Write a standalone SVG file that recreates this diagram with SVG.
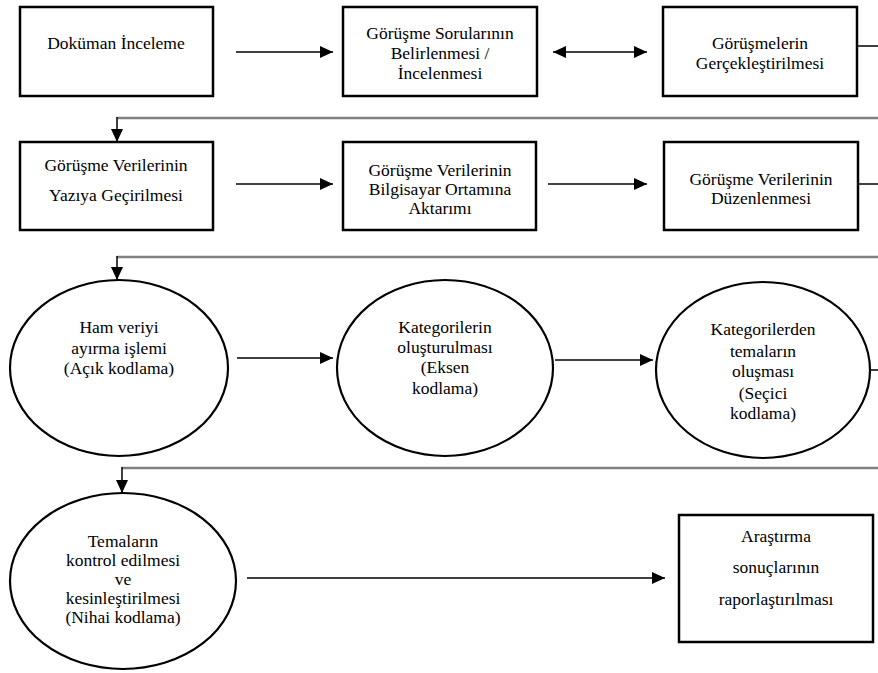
<svg xmlns="http://www.w3.org/2000/svg" width="878" height="673" viewBox="0 0 878 673">
<style>
.box{fill:#fff;stroke:#000;stroke-width:2.5}
.ell{fill:#fff;stroke:#000;stroke-width:2.2}
.t{font-family:'Liberation Serif','Times New Roman',serif;font-size:17.5px;fill:#000;text-anchor:middle}
.arr{stroke:#000;stroke-width:1.5;fill:none}
.ret{stroke:#808080;stroke-width:2.5;fill:none}
</style>
<defs>
<marker id="ah" markerUnits="userSpaceOnUse" markerWidth="13" markerHeight="12" refX="13" refY="6" orient="auto-start-reverse">
<path d="M0,0 L13,6 L0,12 z" fill="#000"/>
</marker>
</defs>
<rect width="878" height="673" fill="#fff"/>
<g id="connectors">
<line class="arr" x1="236" y1="52" x2="333" y2="52" marker-end="url(#ah)"/>
<line class="arr" x1="553" y1="52" x2="647" y2="52" marker-start="url(#ah)" marker-end="url(#ah)"/>
<line class="arr" x1="857" y1="46" x2="878" y2="46"/>
<line class="ret" x1="117" y1="118" x2="878" y2="118"/>
<line class="arr" x1="117" y1="117" x2="117" y2="142" marker-end="url(#ah)"/>
<line class="arr" x1="236" y1="184" x2="333" y2="184" marker-end="url(#ah)"/>
<line class="arr" x1="548" y1="184" x2="647" y2="184" marker-end="url(#ah)"/>
<line class="arr" x1="858" y1="184" x2="878" y2="184"/>
<line class="ret" x1="117" y1="257" x2="878" y2="257"/>
<line class="arr" x1="117" y1="256" x2="117" y2="280" marker-end="url(#ah)"/>
<line class="arr" x1="237" y1="358" x2="333" y2="358" marker-end="url(#ah)"/>
<line class="arr" x1="555" y1="360" x2="653" y2="360" marker-end="url(#ah)"/>
<line class="arr" x1="870" y1="370" x2="878" y2="370"/>
<line class="ret" x1="122" y1="468" x2="878" y2="468"/>
<line class="arr" x1="122" y1="467" x2="122" y2="493" marker-end="url(#ah)"/>
<line class="arr" x1="247" y1="578" x2="665" y2="578" marker-end="url(#ah)"/>
</g>
<g id="n1">
<rect class="box" x="20" y="7" width="193" height="89"/>
<text class="t" x="116" y="49">Doküman İnceleme</text>
</g>
<g id="n2">
<rect class="box" x="343" y="7" width="194" height="89"/>
<text class="t" x="440" y="39">Görüşme Sorularının</text>
<text class="t" x="440" y="59">Belirlenmesi /</text>
<text class="t" x="440" y="79">İncelenmesi</text>
</g>
<g id="n3">
<rect class="box" x="663" y="7" width="194" height="89"/>
<text class="t" x="760" y="49">Görüşmelerin</text>
<text class="t" x="760" y="69">Gerçekleştirilmesi</text>
</g>
<g id="n4">
<rect class="box" x="20" y="142" width="193" height="88"/>
<text class="t" x="116" y="171">Görüşme Verilerinin</text>
<text class="t" x="116" y="201">Yazıya Geçirilmesi</text>
</g>
<g id="n5">
<rect class="box" x="343" y="142" width="193" height="88"/>
<text class="t" x="440" y="176">Görüşme Verilerinin</text>
<text class="t" x="440" y="195">Bilgisayar Ortamına</text>
<text class="t" x="440" y="214">Aktarımı</text>
</g>
<g id="n6">
<rect class="box" x="664" y="142" width="194" height="88"/>
<text class="t" x="761" y="185">Görüşme Verilerinin</text>
<text class="t" x="761" y="204">Düzenlenmesi</text>
</g>
<g id="n7">
<ellipse class="ell" cx="119" cy="368" rx="109" ry="88"/>
<text class="t" x="119" y="333">Ham veriyi</text>
<text class="t" x="119" y="354">ayırma işlemi</text>
<text class="t" x="119" y="374">(Açık kodlama)</text>
</g>
<g id="n8">
<ellipse class="ell" cx="445" cy="368" rx="108" ry="88"/>
<text class="t" x="445" y="333">Kategorilerin</text>
<text class="t" x="445" y="353">oluşturulması</text>
<text class="t" x="445" y="373">(Eksen</text>
<text class="t" x="445" y="394">kodlama)</text>
</g>
<g id="n9">
<ellipse class="ell" cx="763" cy="370" rx="107" ry="88"/>
<text class="t" x="763" y="335">Kategorilerden</text>
<text class="t" x="763" y="357">temaların</text>
<text class="t" x="763" y="377">oluşması</text>
<text class="t" x="763" y="399">(Seçici</text>
<text class="t" x="763" y="419">kodlama)</text>
</g>
<g id="n10">
<ellipse class="ell" cx="123" cy="581" rx="113" ry="88"/>
<text class="t" x="123" y="547">Temaların</text>
<text class="t" x="123" y="566">kontrol edilmesi</text>
<text class="t" x="123" y="585">ve</text>
<text class="t" x="123" y="604">kesinleştirilmesi</text>
<text class="t" x="123" y="623">(Nihai kodlama)</text>
</g>
<g id="n11">
<rect class="box" x="679" y="515" width="194" height="127"/>
<text class="t" x="776" y="542">Araştırma</text>
<text class="t" x="776" y="573">sonuçlarının</text>
<text class="t" x="776" y="605">raporlaştırılması</text>
</g>
</svg>
